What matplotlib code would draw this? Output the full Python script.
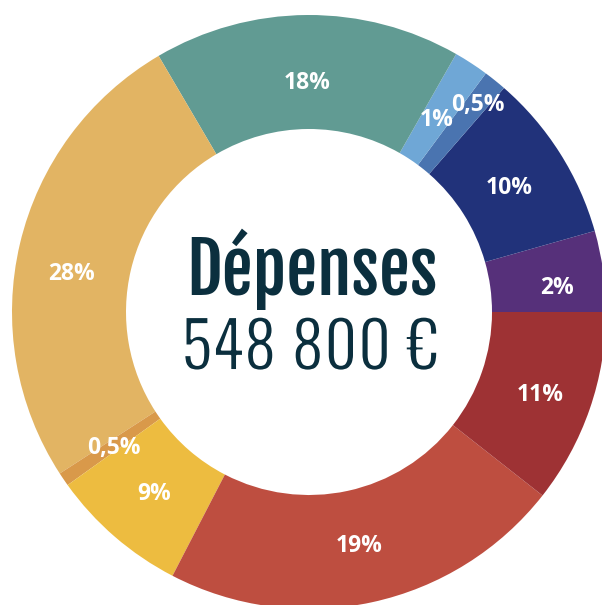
import matplotlib
matplotlib.use("Agg")
import matplotlib.pyplot as plt
import matplotlib.patheffects as pe
import numpy as np

labels = ["2%", "10%", "0,5%", "1%", "18%", "28%", "0,5%", "9%", "19%", "11%"]
shares = [4.4, 9.2, 1.25, 1.9, 16.7, 25.7, 0.75, 7.5, 22.0, 10.6]
colors = ["#56307A", "#21327A", "#4A74B0", "#6FA7D6", "#619B93",
          "#E2B463", "#D9994A", "#EDBC40", "#BE4E40", "#9E3234"]
label_dist = [0.84, 0.80, 0.905, 0.785, 0.78, 0.81, 0.795, 0.795, 0.795, 0.825]
label_turn = [-1.8, 0, 0, 0, 0, 3.4, 0, 0, 0, 0]

title = "Dépenses"
total = "548 800 €"

W, H = 602, 605
fig = plt.figure(figsize=(W / 100, H / 100), dpi=100)
ax = fig.add_axes([0, 0, 1, 1])

cx, cy = 309, H - 312
R_out, R_in = 297, 183

wedges, _ = ax.pie(shares, colors=colors, startangle=0, counterclock=True,
                   center=(cx, cy), radius=R_out,
                   wedgeprops=dict(width=R_out - R_in, linewidth=0, antialiased=True))

for w, lab, d, t in zip(wedges, labels, label_dist, label_turn):
    mid = np.deg2rad((w.theta1 + w.theta2) / 2 + t)
    r = R_out * d
    ax.text(cx + r * np.cos(mid), cy + r * np.sin(mid), lab,
            ha="center", va="center_baseline", color="white", fontsize=16.5,
            fontweight="bold", family=["Open Sans", "DejaVu Sans"])

ax.text(312, H - 295, title, ha="center", va="baseline", color="#0B2F3E",
        fontsize=50, fontweight="bold",
        family=["Fjalla One", "Oswald", "DejaVu Sans"])
ax.text(310, H - 370, total, ha="center", va="baseline", color="#0B2F3E",
        fontsize=47, fontweight="light",
        family=["Oswald", "DejaVu Sans"],
        path_effects=[pe.Normal(), pe.Stroke(linewidth=1.4, foreground="white")])

ax.set_xlim(0, W)
ax.set_ylim(0, H)
ax.set_aspect("equal")
ax.axis("off")

fig.savefig("out.png", dpi=100, facecolor="white")
